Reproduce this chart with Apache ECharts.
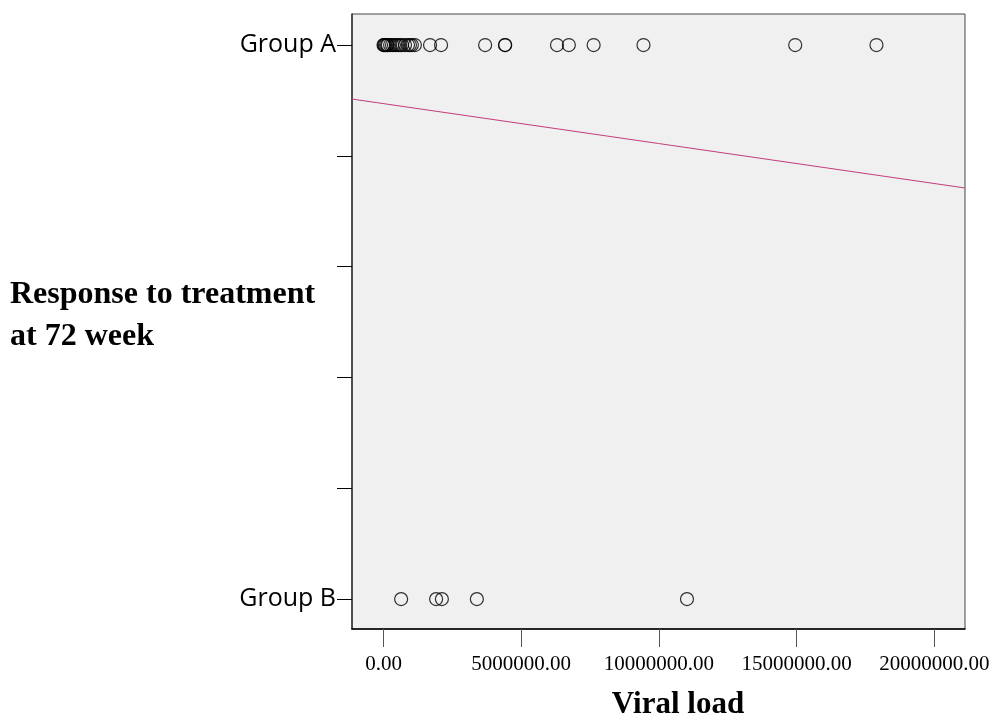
<!DOCTYPE html>
<html>
<head>
<meta charset="utf-8">
<script src="https://cdn.jsdelivr.net/npm/echarts@6/dist/echarts.min.js"></script>
<style>html,body{margin:0;padding:0;background:#fff}#c{width:993px;height:726px}</style>
</head>
<body>
<div id="c"></div>
<script>
// Viral load values (group A responders / group B non-responders)
var groupA = [0, 20000, 50000, 90000, 130000, 160000, 240000, 310000, 380000, 450000,
  530000, 600000, 670000, 780000, 890000, 960000, 1030000, 1140000,
  1690000, 2090000, 3690000, 4410000, 4420000, 6300000, 6730000, 7630000,
  9440000, 14950000, 17900000];
var groupB = [640000, 1910000, 2120000, 3390000, 11020000];
var categoryLabels = {1: 'Group A', 0: 'Group B'};
var yTicks = [0, 0.2, 0.4, 0.6, 0.8, 1];
var xTicks = [0, 5000000, 10000000, 15000000, 20000000];
var xRange = [-1144000, 21115000];
var fitLineX = [-1144000, 21115000];
var fitLineY = [0.9025, 0.742];

var chart = echarts.init(document.getElementById('c'));
chart.setOption({
  animation: false,
  backgroundColor: '#fff',
  title: [
    {text: 'Viral load', left: 673, top: 684, textAlign: 'center',
     textStyle: {fontFamily: 'Liberation Serif', fontWeight: 'bold', fontSize: 31, color: '#000'}},
    {text: 'Response to treatment\nat 72 week', left: 5, top: 269,
     textStyle: {fontFamily: 'Liberation Serif', fontWeight: 'bold', fontSize: 32, color: '#000', lineHeight: 42}}
  ],
  grid: {left: 352, right: 28, top: 14, bottom: 97, show: true,
         backgroundColor: '#f0f0f0', borderColor: '#444', borderWidth: 1},
  xAxis: {
    type: 'value', min: xRange[0], max: xRange[1],
    splitLine: {show: false},
    axisLine: {show: true, onZero: false, lineStyle: {color: '#000', width: 1.5}},
    axisTick: {show: true, length: 18, customValues: xTicks, lineStyle: {color: '#555'}},
    axisLabel: {customValues: xTicks, margin: 25, fontFamily: 'Liberation Serif', fontSize: 21, color: '#000',
      formatter: function (v) { return v.toFixed(2); }}
  },
  yAxis: {
    type: 'value', min: -0.054, max: 1.056,
    splitLine: {show: false},
    axisLine: {show: true, onZero: false, lineStyle: {color: '#333', width: 1.5}},
    axisTick: {show: true, length: 15, customValues: yTicks, lineStyle: {color: '#000'}},
    axisLabel: {customValues: [0, 1], margin: 16, fontFamily: 'Open Sans', fontSize: 25, color: '#000',
      formatter: function (v) { return categoryLabels[Math.round(v)] || ''; }}
  },
  series: [
    {type: 'scatter', symbol: 'circle', symbolSize: 13,
     itemStyle: {color: 'rgba(0,0,0,0)', borderColor: '#000', borderWidth: 1.2},
     data: groupA.map(function (v) { return [v, 1]; })},
    {type: 'scatter', symbol: 'circle', symbolSize: 13,
     itemStyle: {color: 'rgba(0,0,0,0)', borderColor: '#000', borderWidth: 1.2},
     data: groupB.map(function (v) { return [v, 0]; })},
    {type: 'line', showSymbol: false, lineStyle: {color: '#c43c7e', width: 1},
     data: fitLineX.map(function (x, i) { return [x, fitLineY[i]]; })}
  ]
});
</script>
</body>
</html>
